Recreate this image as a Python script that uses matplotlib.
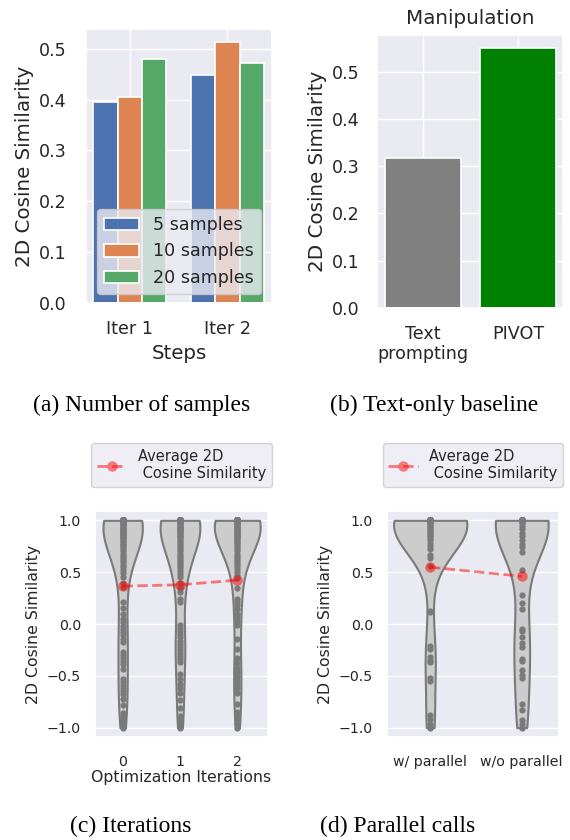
import matplotlib
matplotlib.use("Agg")
import matplotlib.pyplot as plt
import seaborn as sns
import numpy as np
import pandas as pd

sns.set_theme(style="darkgrid")
plt.rcParams['font.family'] = ['DejaVu Sans']

# ---------------- data ----------------
steps = ["Iter 1", "Iter 2"]
sample_labels = ["5 samples", "10 samples", "20 samples"]
samples_5 = [0.395, 0.448]
samples_10 = [0.405, 0.513]
samples_20 = [0.480, 0.472]
sample_colors = ["#4C72B0", "#DD8452", "#55A868"]

baseline_methods = ["Text\nprompting", "PIVOT"]
baseline_values = [0.317, 0.550]
baseline_colors = ["gray", "green"]

iteration_labels = ["0", "1", "2"]
iter0 = [1.0] * 35 + [0.99, 0.99, 0.98, 0.98, 0.97, 0.96, 0.96, 0.95, 0.94, 0.93, 0.92, 0.91,
                      0.90, 0.89, 0.88, 0.87, 0.86, 0.85, 0.84, 0.83, 0.82, 0.80, 0.79, 0.77,
                      0.76, 0.74, 0.72, 0.70, 0.68, 0.66, 0.64, 0.62, 0.60, 0.57, 0.55, 0.52,
                      0.49, 0.45, 0.40, 0.36,
                      0.21, 0.15, 0.10, 0.05, 0.02, -0.02, -0.05, -0.08, -0.11, -0.14,
                      -0.17, -0.27, -0.30, -0.33, -0.36, -0.39, -0.43, -0.53, -0.56, -0.59,
                      -0.62, -0.65, -0.68, -0.72, -0.78, -0.86, -0.89, -0.92, -0.95, -0.98, -1.0]
iter1 = [1.0] * 35 + [0.99, 0.99, 0.98, 0.97, 0.97, 0.96, 0.95, 0.94, 0.93, 0.92, 0.91, 0.90,
                      0.89, 0.88, 0.86, 0.85, 0.84, 0.82, 0.80, 0.78, 0.76, 0.74, 0.72, 0.70,
                      0.68, 0.66, 0.64, 0.62, 0.60, 0.58, 0.56, 0.54, 0.51, 0.48, 0.45, 0.40,
                      0.36, 0.34, 0.31, 0.24, 0.21,
                      -0.01, -0.04, -0.07, -0.10, -0.13, -0.16, -0.19, -0.22, -0.25, -0.28,
                      -0.31, -0.34, -0.37, -0.48, -0.53, -0.58, -0.62, -0.67, -0.73, -0.81,
                      -0.89, -0.92, -0.95, -0.98, -1.0]
iter2 = [1.0] * 40 + [0.99, 0.99, 0.98, 0.98, 0.97, 0.97, 0.96, 0.95, 0.95, 0.94, 0.93, 0.92,
                      0.91, 0.90, 0.89, 0.88, 0.87, 0.86, 0.85, 0.84, 0.83, 0.82, 0.80, 0.79,
                      0.78, 0.76, 0.74, 0.72, 0.70, 0.68, 0.66, 0.64, 0.62, 0.60, 0.58, 0.56,
                      0.53, 0.50, 0.47, 0.44,
                      0.35, 0.24, 0.21, 0.18, 0.14, 0.10, 0.07, 0.03, -0.01, -0.14, -0.24,
                      -0.33, -0.38, -0.42, -0.46, -0.50, -0.54, -0.58, -0.62, -0.67, -0.77,
                      -0.85, -0.88, -0.92, -0.96, -1.0]
iteration_means = [0.365, 0.378, 0.423]

parallel_labels = ["w/ parallel", "w/o parallel"]
with_parallel = [1.0] * 35 + [0.99, 0.98, 0.97, 0.96, 0.95, 0.94, 0.93, 0.91, 0.90, 0.88,
                              0.86, 0.85, 0.83, 0.81, 0.78, 0.75, 0.72, 0.67, 0.64, 0.56,
                              0.13, 0.12, -0.21, -0.24, -0.32, -0.35, -0.37, -0.52, -0.55,
                              -0.88, -0.92, -0.96, -0.99, -1.0]
without_parallel = [1.0] * 25 + [0.99, 0.98, 0.97, 0.95, 0.92, 0.88, 0.85, 0.81, 0.77, 0.74,
                                 0.69, 0.52, 0.28, 0.20, 0.14, -0.05, -0.07, -0.13, -0.18,
                                 -0.22, -0.34, -0.36, -0.44, -0.49, -0.52, -0.77, -0.83,
                                 -0.93, -0.96, -0.99, -1.0]
parallel_means = [0.548, 0.460]

captions = ["(a) Number of samples", "(b) Text-only baseline",
            "(c) Iterations", "(d) Parallel calls"]

# ---------------- figure ----------------
W, H = 570, 840
fig = plt.figure(figsize=(W / 100, H / 100), dpi=100)


def px_axes(x0, y0, x1, y1):
    return fig.add_axes([x0 / W, 1 - y1 / H, (x1 - x0) / W, (y1 - y0) / H])


TICK_TOP, LAB_TOP = 12.6, 14.3
TICK_BOT, LAB_BOT = 10.2, 11.3

# (a) number of samples
ax = px_axes(86, 29, 272, 303)
x = np.arange(len(steps))
offsets = [-0.25, 0.0, 0.25]
for vals, lab, col, off in zip([samples_5, samples_10, samples_20], sample_labels,
                               sample_colors, offsets):
    ax.bar(x + off, vals, width=0.25, color=col, edgecolor="white", linewidth=1.2,
           label=lab, zorder=2)
ax.set_xticks(x)
ax.set_xticklabels(steps, fontsize=TICK_TOP)
ax.set_xlim(-0.45, 1.457)
ax.set_ylim(0, 0.539)
ax.set_yticks([0, 0.1, 0.2, 0.3, 0.4, 0.5])
ax.tick_params(axis="y", labelsize=TICK_TOP, length=0, pad=13.7)
ax.tick_params(axis="x", length=0, pad=11.9)
ax.set_xlabel("Steps", fontsize=LAB_TOP, labelpad=4.5)
ax.set_ylabel("2D Cosine Similarity", fontsize=LAB_TOP)
ax.legend(loc="lower center", fontsize=TICK_TOP)

# (b) text-only baseline
ax = px_axes(377, 35, 563, 308)
xb = np.arange(len(baseline_methods))
ax.bar(xb, baseline_values, width=0.8, color=baseline_colors, edgecolor="white",
       linewidth=1.2, zorder=2)
ax.set_xticks(xb)
ax.set_xticklabels(baseline_methods, fontsize=TICK_TOP)
ax.set_xlim(-0.48, 1.47)
ax.set_ylim(0, 0.5775)
ax.set_yticks([0, 0.1, 0.2, 0.3, 0.4, 0.5])
ax.tick_params(axis="y", labelsize=TICK_TOP, length=0, pad=12.2)
ax.tick_params(axis="x", length=0, pad=11.9)
ax.set_ylabel("2D Cosine Similarity", fontsize=LAB_TOP)
ax.set_title("Manipulation", fontsize=LAB_TOP, pad=8)


def violin_panel(ax, labels, groups, means, xlabel):
    df = pd.DataFrame({
        "cat": np.concatenate([[l] * len(g) for l, g in zip(labels, groups)]),
        "val": np.concatenate(groups),
    })
    sns.violinplot(data=df, x="cat", y="val", order=labels, color=".8", cut=0,
                   inner=None, linewidth=1.5, linecolor="#7a7a7a", ax=ax)
    sns.stripplot(data=df, x="cat", y="val", order=labels, jitter=False,
                  color="#7a7a7a", size=4.5, ax=ax)
    ax.plot(np.arange(len(labels)), means, "o--", color="red", alpha=0.5,
            markersize=7.5, markeredgewidth=0, linewidth=2,
            label="Average 2D\n Cosine Similarity", zorder=5)
    ax.set_ylim(-1.09, 1.09)
    ax.set_yticks([-1.0, -0.5, 0.0, 0.5, 1.0])
    ax.tick_params(labelsize=TICK_BOT)
    ax.tick_params(axis="y", length=0, pad=10)
    ax.tick_params(axis="x", length=0, pad=13)
    ax.set_ylabel("2D Cosine Similarity", fontsize=LAB_BOT)
    ax.set_xlabel(xlabel, fontsize=LAB_BOT, labelpad=1)
    ax.legend(loc="lower center", bbox_to_anchor=(0.5, 1.075), fontsize=10.5)


ax = px_axes(95, 511, 268, 737)
violin_panel(ax, iteration_labels, [iter0, iter1, iter2], iteration_means,
             "Optimization Iterations")
ax.set_xlim(-0.483, 2.536)

ax = px_axes(387, 511, 559, 737)
violin_panel(ax, parallel_labels, [with_parallel, without_parallel], parallel_means, "")
ax.set_xlim(-0.472, 1.407)

cap_font = dict(family=["Liberation Serif", "DejaVu Serif"], fontsize=17, ha="center",
                va="center", color="black")
for txt, (cx, cy) in zip(captions, [(142, 405), (434, 405), (131, 826), (398, 826)]):
    fig.text(cx / W, 1 - cy / H, txt, **cap_font)

fig.savefig("out.png", dpi=100, facecolor="white")
